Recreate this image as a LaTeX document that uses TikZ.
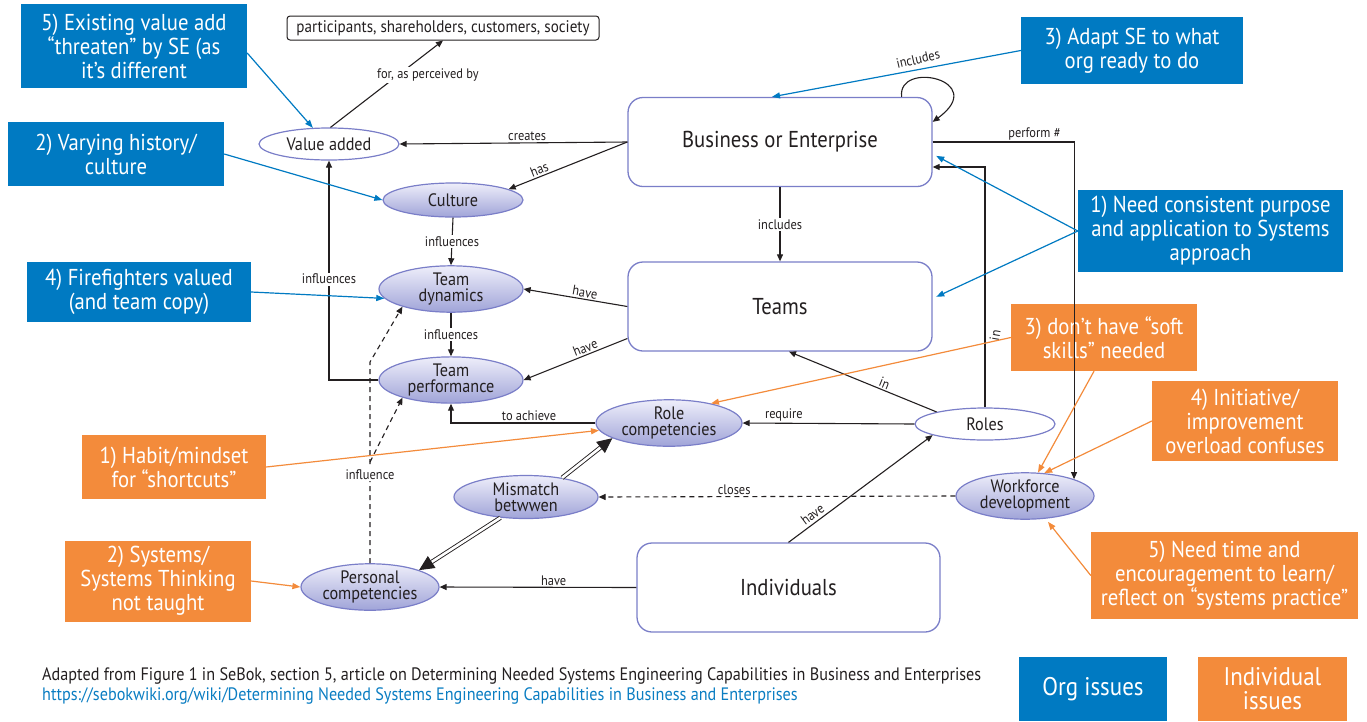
\documentclass[tikz,border=0pt]{standalone}
\usepackage{fontspec}
\setmainfont{PT Sans}[FakeStretch=0.9]
\usetikzlibrary{arrows.meta,shapes.geometric}
\definecolor{orgblue}{RGB}{0,122,194}
\definecolor{indorange}{RGB}{243,139,59}
\definecolor{rimblue}{RGB}{122,126,200}
\definecolor{ellTop}{RGB}{238,238,250}
\definecolor{ellBot}{RGB}{160,164,216}
\definecolor{ink}{RGB}{35,31,32}
\definecolor{urlblue}{RGB}{10,125,194}
\begin{document}
\begin{tikzpicture}[x=1pt,y=-1pt,
  orgbox/.style={fill=orgblue,text=white,inner sep=0pt,align=center,font=\fontsize{23}{24}\selectfont},
  indbox/.style={fill=indorange,text=white,inner sep=0pt,align=center,font=\fontsize{23}{24}\selectfont},
  rbox/.style={draw=rimblue,line width=1.3pt,rounded corners=15pt,fill=white,inner sep=0pt,
    minimum width=304pt,minimum height=89pt,font=\fontsize{23}{28}\selectfont,text=ink},
  ell/.style={ellipse,draw=rimblue,line width=1.2pt,top color=ellTop,bottom color=ellBot,inner sep=0pt,
    align=center,font=\fontsize{18}{16.5}\selectfont,text=ink},
  wellipse/.style={ellipse,draw=rimblue,line width=1.2pt,fill=white,inner sep=0pt,
    align=center,font=\fontsize{18}{16.5}\selectfont,text=ink},
  arr/.style={draw=ink,line width=1.1pt,-{Triangle[length=7pt,width=6pt]}},
  dbl/.style={draw=ink,line width=0.9pt,double,double distance=2.6pt,-{Triangle[length=15pt,width=14pt]}},
  elab/.style={font=\fontsize{13.8}{15}\selectfont,text=ink,inner sep=1.5pt},
  onlab/.style={elab,fill=white},
  bluearr/.style={draw=orgblue,line width=1.2pt,-{Triangle[length=8pt,width=6pt]}},
  orarr/.style={draw=indorange,line width=1.2pt,-{Triangle[length=8pt,width=6pt]}}
]
\useasboundingbox (0,0) rectangle (1367,721);

% ---- organisation issues (blue) ----
\node[orgbox,minimum width=226pt,minimum height=84pt] (b5) at (134,46) {5) Existing value add\\“threaten” by SE (as\\it’s different};
\node[orgbox,minimum width=222pt,minimum height=67pt] (b3) at (1132,50.5) {3) Adapt SE to what\\org ready to do};
\node[orgbox,minimum width=216pt,minimum height=64pt] (b2) at (116,154) {2) Varying history/\\culture};
\node[orgbox,minimum width=265pt,minimum height=82pt] (b1) at (1210.5,231) {1) Need consistent purpose\\and application to Systems\\approach};
\node[orgbox,minimum width=224pt,minimum height=60pt] (b4) at (139,292) {4) Firefighters valued\\(and team copy)};

% ---- individual issues (orange) ----
\node[indbox,minimum width=186pt,minimum height=67pt] (o3) at (1104,337.5) {3) don’t have “soft\\skills” needed};
\node[indbox,minimum width=186pt,minimum height=80pt] (o4) at (1245,421) {4) Initiative/\\improvement\\overload confuses};
\node[indbox,minimum width=184pt,minimum height=64pt] (o1) at (174,467) {1) Habit/mindset\\for “shortcuts”};
\node[indbox,minimum width=186pt,minimum height=81pt] (o2) at (158,581) {2) Systems/\\Systems Thinking\\not taught};
\node[indbox,minimum width=267pt,minimum height=87pt] (o5) at (1224.5,575.5) {5) Need time and\\encouragement to learn/\\reflect on “systems practice”};

% ---- concept boxes ----
\node[draw=ink,line width=1pt,rounded corners=3pt,fill=white,inner sep=0pt,minimum width=312pt,minimum height=24pt,
  font=\fontsize{16.8}{18}\selectfont,text=ink] (part) at (443,28) {participants, shareholders, customers, society};
\node[rbox] (biz) at (780,142) {Business or Enterprise};
\node[rbox] (teams) at (780,306.5) {Teams};
\node[rbox,minimum width=303pt] (ind) at (788.5,587.5) {Individuals};

% ---- concept ellipses ----
\node[wellipse,minimum width=140pt,minimum height=32pt] (va) at (329,144) {Value added};
\node[ell,minimum width=140pt,minimum height=34pt] (cul) at (453,200) {Culture};
\node[ell,minimum width=144pt,minimum height=44pt] (td) at (451,289) {Team\\dynamics};
\node[ell,minimum width=144pt,minimum height=44pt] (tp) at (451,380) {Team\\performance};
\node[ell,minimum width=146pt,minimum height=44pt] (rc) at (669,423) {Role\\competencies};
\node[wellipse,minimum width=140pt,minimum height=32pt] (roles) at (985,424) {Roles};
\node[ell,minimum width=144pt,minimum height=43pt] (mm) at (526,497) {Mismatch\\betwwen};
\node[ell,minimum width=138pt,minimum height=44pt] (wd) at (1025,496) {Workforce\\development};
\node[ell,minimum width=138pt,minimum height=46pt] (pc) at (370,587) {Personal\\competencies};

% ---- relations ----
\draw[arr] (va.85) -- node[onlab,pos=0.6,xshift=30pt]{for, as perceived by} (part.south);
\draw[arr] (biz.west) -- node[elab,above,pos=0.44]{creates} (va.east);
\draw[arr] (biz.west) -- node[elab,above,sloped,pos=0.72]{has} (cul.11);
\draw[arr] ([xshift=-31pt]biz.north east) .. controls (897,60) and (990,80) .. ([yshift=-25pt]biz.north east);
\node[elab,rotate=13] (incl) at (918,59) {includes};
\draw[arr] (biz.east) -| node[elab,above,pos=0.36]{perform \#} (wd.19);
\draw[arr] (roles.north) |- node[elab,pos=0.15,xshift=10pt,rotate=80]{in} ([yshift=-25pt]biz.east);
\draw[arr] (biz.south) -- node[onlab]{includes} (teams.north);
\draw[arr] (cul.south) -- node[onlab]{influences} (td.north);
\draw[arr] (td.south) -- node[onlab]{influences} (tp.north);
\draw[arr] (teams.west) -- node[elab,above,sloped,pos=0.42]{have} (td.east);
\draw[arr] ([yshift=-32pt]teams.west) -- node[elab,above,sloped,pos=0.38]{have} (tp.east);
\draw[arr] (tp.west) -| node[onlab,pos=0.73]{influences} (va.south);
\draw[arr] (rc.west) -| node[elab,above,pos=0.23]{to achieve} (tp.south);
\draw[arr] (roles.west) -- node[elab,above,pos=0.76]{require} (rc.east);
\draw[arr] (roles.166) -- node[elab,above,sloped,pos=0.37]{in} ([xshift=9pt]teams.south);
\draw[arr] (ind.north) -- node[elab,above=1pt,sloped,pos=0.2]{have} (roles.192);
\draw[arr] (ind.west) -- node[elab,above,pos=0.42]{have} (pc.east);
\draw[arr,dashed,dash pattern=on 5pt off 4pt] (wd.west) -- node[elab,above,pos=0.62]{closes} (mm.east);
\draw[dbl] (mm.28) -- (rc.195);
\draw[dbl] (mm.219) -- (pc.19);
\coordinate (bend1) at (370,362);
\coordinate (bend2) at (370,462);
\draw[arr,dashed,dash pattern=on 5pt off 4pt] (pc.north) -- node[onlab,pos=0.44]{influence} (bend1) -- (td.200);
\draw[arr,dashed,dash pattern=on 5pt off 4pt] (bend2) -- (tp.200);

% ---- issue pointers ----
\draw[bluearr] ([yshift=-7pt]b5.east) -- (va.135);
\draw[bluearr] (b2.east) -- (cul.west);
\draw[bluearr] (b4.east) -- (td.188);
\draw[bluearr] (b3.west) -- ([xshift=-8pt]biz.north);
\draw[bluearr,shorten >=4pt] (b1.west) -- ([yshift=-12pt]biz.east);
\draw[bluearr,shorten >=4pt] (b1.west) -- ([yshift=8pt]teams.east);
\draw[orarr] (o3.west) -- (rc.25);
\draw[orarr] ([xshift=-10pt]o3.south) -- (wd.61);
\draw[orarr] (o4.west) -- (wd.50);
\draw[orarr,shorten >=4pt] (o5.west) -- (wd.-48);
\draw[orarr] (o1.east) -- (rc.186);
\draw[orarr] (o2.east) -- (pc.west);

% ---- source note and legend ----
\node[anchor=west,align=left,inner sep=0pt,font=\fontsize{18}{20}\selectfont,text=ink] (src) at (42,686)
  {Adapted from Figure 1 in SeBok, section 5, article on Determining Needed Systems Engineering Capabilities in Business and Enterprises\\
   \textcolor{urlblue}{https://sebokwiki.org/wiki/Determining Needed Systems Engineering Capabilities in Business and Enterprises}};
\node[orgbox,minimum width=148pt,minimum height=64pt,font=\fontsize{25.5}{24}\selectfont] (legorg) at (1093,689) {Org issues};
\node[indbox,minimum width=149pt,minimum height=64pt,font=\fontsize{25.5}{24}\selectfont] (legind) at (1272.5,689) {Individual\\issues};
\end{tikzpicture}
\end{document}
